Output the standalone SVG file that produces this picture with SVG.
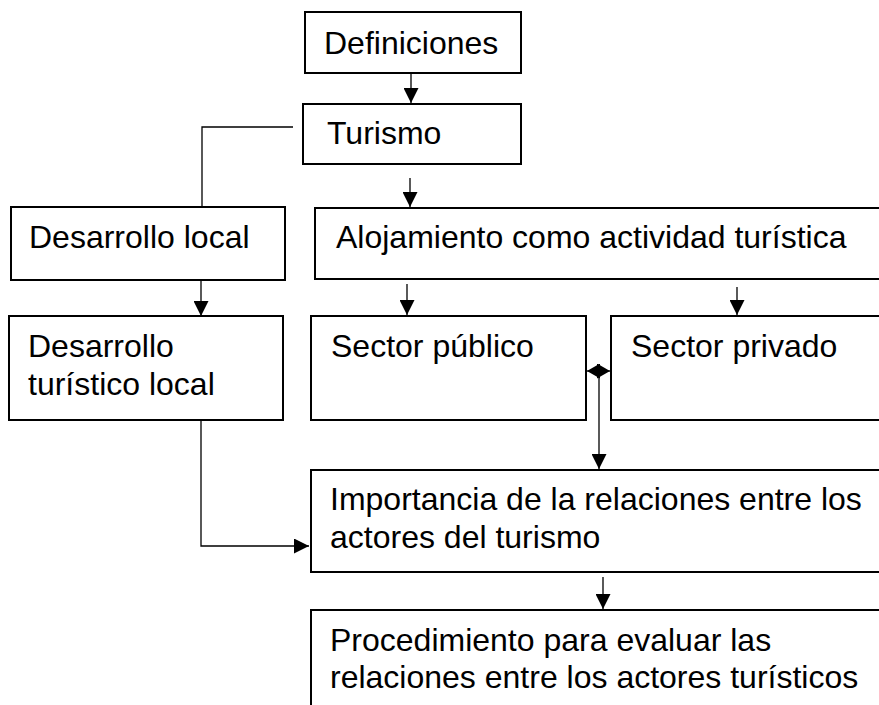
<svg xmlns="http://www.w3.org/2000/svg" width="879" height="705" viewBox="0 0 879 705">
<style>
.box{fill:#fff;stroke:#000;stroke-width:2}
.t{font-family:"Liberation Sans",Arial,sans-serif;font-size:32px;fill:#000}
.c{fill:none;stroke:#000;stroke-width:1.3}
</style>
<defs>
<marker id="ah" viewBox="0 0 10 10" refX="10" refY="5" markerWidth="15" markerHeight="15" markerUnits="userSpaceOnUse" orient="auto">
<path d="M0,0 L10,5 L0,10 z" fill="#000"/>
</marker>
<marker id="ahs" viewBox="0 0 13 15" refX="13" refY="7.5" markerWidth="13" markerHeight="15" markerUnits="userSpaceOnUse" orient="auto-start-reverse">
<path d="M0,0 L13,7.5 L0,15 z" fill="#000"/>
</marker>
</defs>
<rect width="879" height="705" fill="#fff"/>
<g id="connectors">
<line class="c" x1="411" y1="73" x2="411" y2="103" marker-end="url(#ah)"/>
<polyline class="c" points="293,127 202,127 202,207"/>
<line class="c" x1="410" y1="178" x2="410" y2="207" marker-end="url(#ah)"/>
<line class="c" x1="201" y1="280" x2="201" y2="316" marker-end="url(#ah)"/>
<line class="c" x1="407" y1="284" x2="407" y2="315" marker-end="url(#ah)"/>
<line class="c" x1="737" y1="287" x2="737" y2="315" marker-end="url(#ah)"/>
<line class="c" x1="587" y1="371" x2="610" y2="371" marker-start="url(#ahs)" marker-end="url(#ahs)"/>
<line class="c" x1="599" y1="371" x2="599" y2="469" marker-end="url(#ah)"/>
<polyline class="c" points="201,420 201,546 309,546" marker-end="url(#ah)"/>
<line class="c" x1="603" y1="577" x2="603" y2="609" marker-end="url(#ah)"/>
</g>
<g id="n-definiciones">
<rect class="box" x="305" y="12" width="216" height="61"/>
<text class="t" x="324" y="54">Definiciones</text>
</g>
<g id="n-turismo">
<rect class="box" x="303" y="104" width="218" height="60"/>
<text class="t" x="327" y="144">Turismo</text>
</g>
<g id="n-desarrollo-local">
<rect class="box" x="11" y="207" width="274" height="73"/>
<text class="t" x="29" y="248">Desarrollo local</text>
</g>
<g id="n-alojamiento">
<rect class="box" x="315" y="208" width="580" height="71"/>
<text class="t" x="336" y="248">Alojamiento como actividad turística</text>
</g>
<g id="n-desarrollo-turistico">
<rect class="box" x="9" y="316" width="274" height="104"/>
<text class="t" x="28" y="357">Desarrollo</text>
<text class="t" x="28" y="395">turístico local</text>
</g>
<g id="n-sector-publico">
<rect class="box" x="311" y="316" width="275" height="104"/>
<text class="t" x="331" y="357">Sector público</text>
</g>
<g id="n-sector-privado">
<rect class="box" x="611" y="316" width="290" height="104"/>
<text class="t" x="631" y="357">Sector privado</text>
</g>
<g id="n-importancia">
<rect class="box" x="311" y="470" width="590" height="102"/>
<text class="t" x="330" y="510">Importancia de la relaciones entre los</text>
<text class="t" x="330" y="548">actores del turismo</text>
</g>
<g id="n-procedimiento">
<rect class="box" x="311" y="610" width="590" height="120"/>
<text class="t" x="330" y="651">Procedimiento para evaluar las</text>
<text class="t" x="330" y="688">relaciones entre los actores turísticos</text>
</g>
</svg>
